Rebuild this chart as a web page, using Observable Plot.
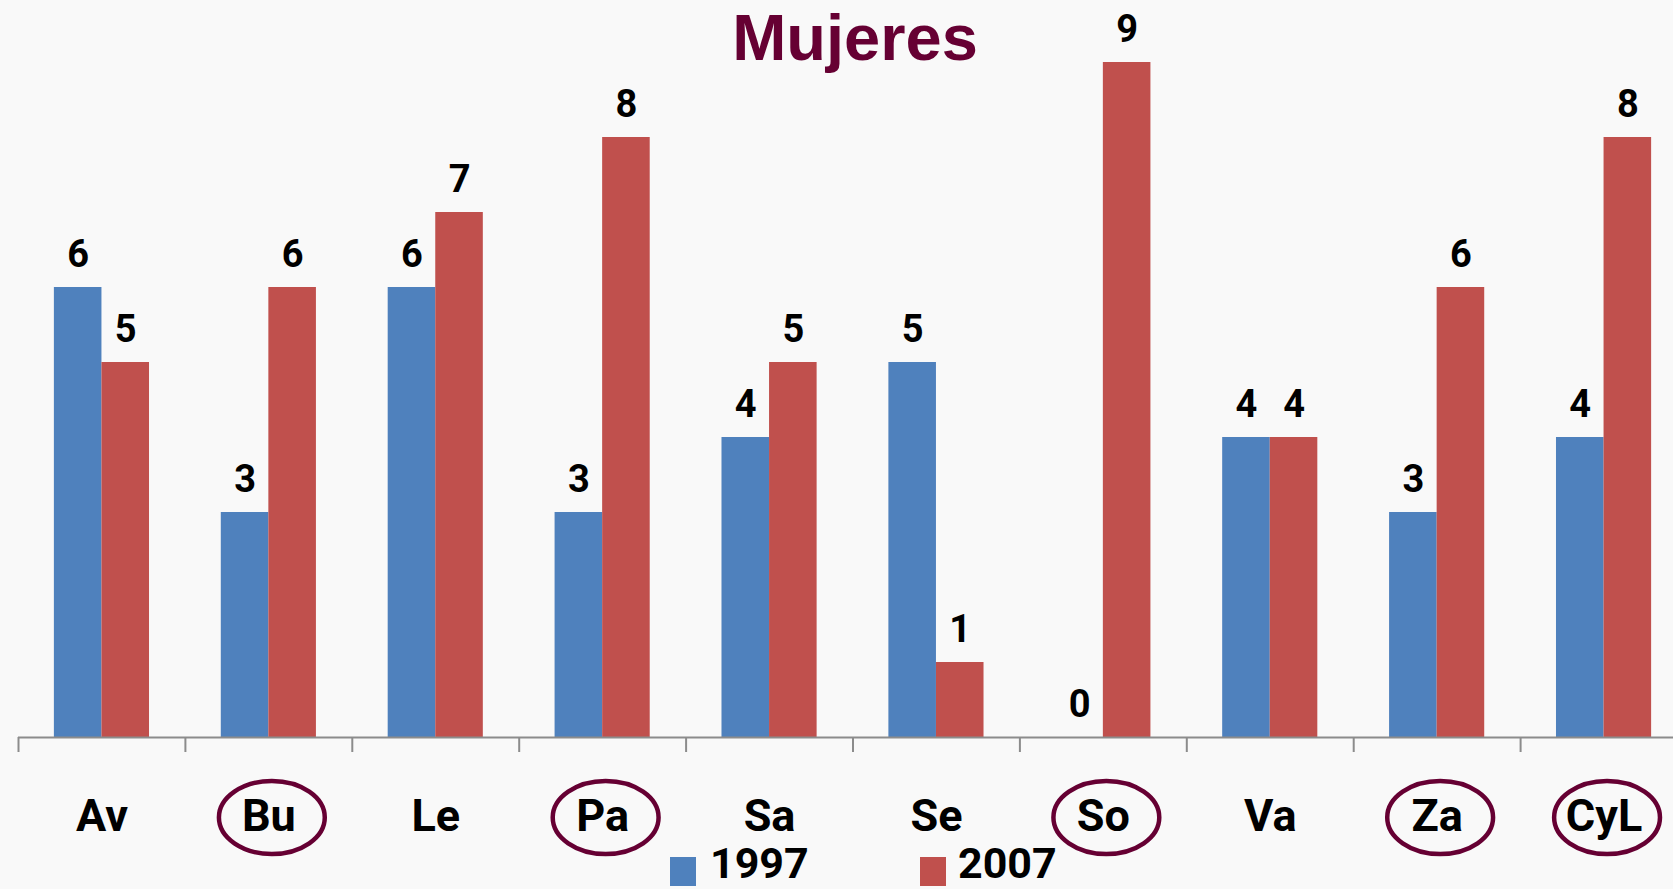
<!DOCTYPE html>
<html>
<head>
<meta charset="utf-8">
<script src="https://cdn.jsdelivr.net/npm/d3@7"></script>
<script src="https://cdn.jsdelivr.net/npm/@observablehq/plot@0.6"></script>
<style>
  html, body { margin: 0; padding: 0; background: #f9f9f9; overflow: hidden; width: 1673px; height: 889px; }
  #wrap { position: relative; width: 1673px; height: 889px; overflow: hidden; }
  #title { position: absolute; top: 5px; left: 855px; transform: translateX(-50%);
           font: bold 65px/65px "Liberation Sans", Arial, sans-serif; color: #660033; white-space: nowrap; z-index: 2; }
  #legend { position: absolute; top: 842px; left: 0; width: 1673px; height: 47px; }
  .sw { position: absolute; top: 15px; width: 26px; height: 29px; }
  .lt { position: absolute; top: 0; font: bold 43px/43px Roboto, sans-serif; color: #000; }
  #chart svg { overflow: visible; max-width: none !important; }
</style>
</head>
<body>
<div id="wrap">
  <div id="chart"></div>
  <div id="title"></div>
  <div id="legend"></div>
</div>
<script>
// ---- data ----
const titleText = "Mujeres";
const categories = ["Av", "Bu", "Le", "Pa", "Sa", "Se", "So", "Va", "Za", "CyL"];
const circled = ["Bu", "Pa", "So", "Za", "CyL"];
const seriesNames = ["1997", "2007"];
const values1997 = [6, 3, 6, 3, 4, 5, 0, 4, 3, 4];
const values2007 = [5, 6, 7, 8, 5, 1, 9, 4, 6, 8];
const seriesColors = ["#4F81BD", "#C0504D"];
const yDomain = [0, 9];

// ---- layout ----
const W = 1690, H = 850, mL = 18, mR = 3, mT = 62, mB = 113;
const bw = (W - mL - mR) / categories.length;
const gap = 0.215 * bw;
const barW = (bw - 2 * gap) / 2;
const labelFont = 'Roboto, sans-serif';
const maroon = "#660033";

const rowsA = categories.map((c, i) => ({cat: c, series: seriesNames[0], value: values1997[i]}));
const rowsB = categories.map((c, i) => ({cat: c, series: seriesNames[1], value: values2007[i]}));

const ellipse = {
  draw(ctx, size) {
    const ry = Math.sqrt(size / Math.PI), rx = ry * 1.45, k = 0.5523;
    ctx.moveTo(rx, 0);
    ctx.bezierCurveTo(rx, k * ry, k * rx, ry, 0, ry);
    ctx.bezierCurveTo(-k * rx, ry, -rx, k * ry, -rx, 0);
    ctx.bezierCurveTo(-rx, -k * ry, -k * rx, -ry, 0, -ry);
    ctx.bezierCurveTo(k * rx, -ry, rx, -k * ry, rx, 0);
    ctx.closePath();
  }
};

const chart = Plot.plot({
  width: W, height: H,
  marginLeft: mL, marginRight: mR, marginTop: mT, marginBottom: mB,
  style: {background: "transparent", overflow: "visible", maxWidth: "none"},
  x: {domain: categories, padding: 0, round: false, axis: null},
  y: {domain: yDomain, axis: null},
  marks: [
    Plot.barY(rowsA, {x: "cat", y: "value", fill: seriesColors[0], insetLeft: gap, insetRight: gap + barW}),
    Plot.barY(rowsB, {x: "cat", y: "value", fill: seriesColors[1], insetLeft: gap + barW, insetRight: gap}),
    Plot.ruleY([0], {stroke: "#8c8c8c", strokeWidth: 2}),
    Plot.ruleX(categories, {x: d => d, dx: -bw / 2, y1: 0, y2: 0, insetBottom: -15, stroke: "#8c8c8c", strokeWidth: 2}),
    Plot.text(rowsA, {x: "cat", y: "value", text: d => String(d.value), dx: -barW / 2, dy: -21,
      lineAnchor: "bottom", fontSize: 38, fontWeight: "bold", fontFamily: labelFont, fill: "#000"}),
    Plot.text(rowsB, {x: "cat", y: "value", text: d => String(d.value), dx: barW / 2, dy: -21,
      lineAnchor: "bottom", fontSize: 38, fontWeight: "bold", fontFamily: labelFont, fill: "#000"}),
    Plot.text(categories, {x: d => d, frameAnchor: "bottom", dy: 93, lineAnchor: "bottom",
      fontSize: 45, fontWeight: "bold", fontFamily: labelFont, fill: "#000"}),
    Plot.dot(circled, {x: d => d, frameAnchor: "bottom", dy: 80, dx: 3, r: 36.5, symbol: ellipse,
      stroke: maroon, strokeWidth: 4.5, fill: "none"})
  ]
});
document.getElementById("chart").appendChild(chart);
document.getElementById("title").textContent = titleText;

// legend
const legend = document.getElementById("legend");
const swLeft = [670, 920], txtLeft = [710, 958];
seriesNames.forEach((s, i) => {
  const sw = document.createElement("div");
  sw.className = "sw"; sw.style.left = swLeft[i] + "px"; sw.style.background = seriesColors[i];
  const t = document.createElement("div");
  t.className = "lt"; t.style.left = txtLeft[i] + "px"; t.textContent = s;
  legend.appendChild(sw); legend.appendChild(t);
});
</script>
</body>
</html>
